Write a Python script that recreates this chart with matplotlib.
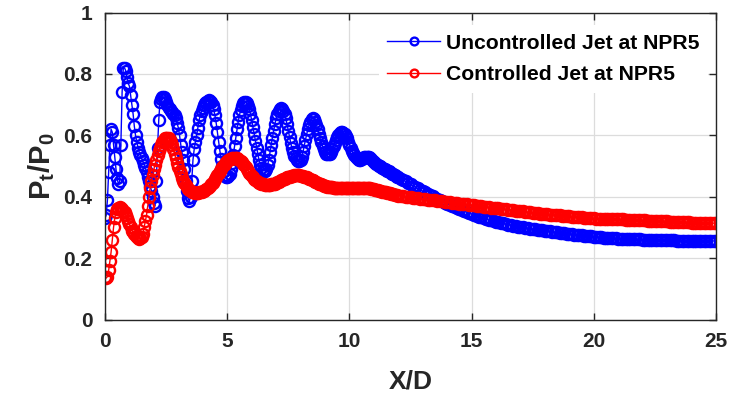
import matplotlib.pyplot as plt
import numpy as np

plt.rcParams['font.family'] = ['Liberation Sans', 'DejaVu Sans']
plt.rcParams['mathtext.fontset'] = 'custom'
plt.rcParams['mathtext.bf'] = 'Liberation Sans:bold'
plt.rcParams['mathtext.rm'] = 'Liberation Sans'
plt.rcParams['mathtext.it'] = 'Liberation Sans:italic'

# sampling grid of X/D: 0.05 over the oscillating part, then 0.1
xd = np.round(np.concatenate([np.arange(0, 12, 0.05), np.arange(12, 25.001, 0.1)]), 2)

# Uncontrolled jet, Pt/P0
unctrl = [
    # 0 - 12 (step 0.05)
    0.33, 0.34, 0.39, 0.48, 0.57, 0.62, 0.61, 0.57, 0.53, 0.49,
    0.46, 0.44, 0.45, 0.57, 0.74, 0.82, 0.82, 0.81, 0.79, 0.77,
    0.76, 0.73, 0.70, 0.67, 0.63, 0.60, 0.58, 0.56, 0.545, 0.535,
    0.525, 0.515, 0.505, 0.495, 0.48, 0.465, 0.45, 0.435, 0.42, 0.40,
    0.38, 0.37, 0.45, 0.56, 0.65, 0.71, 0.72, 0.725, 0.725, 0.72,
    0.71, 0.70, 0.69, 0.685, 0.68, 0.675, 0.67, 0.665, 0.655, 0.64,
    0.625, 0.60, 0.57, 0.545, 0.52, 0.49, 0.45, 0.42, 0.395, 0.385,
    0.40, 0.45, 0.52, 0.555, 0.58, 0.60, 0.625, 0.65, 0.665, 0.68,
    0.69, 0.698, 0.705, 0.71, 0.712, 0.714, 0.712, 0.708, 0.70, 0.685,
    0.665, 0.64, 0.61, 0.58, 0.55, 0.523, 0.50, 0.483, 0.47, 0.465,
    0.465, 0.468, 0.475, 0.49, 0.51, 0.537, 0.565, 0.593, 0.62, 0.645,
    0.665, 0.682, 0.695, 0.705, 0.71, 0.709, 0.705, 0.697, 0.685, 0.67,
    0.65, 0.628, 0.605, 0.582, 0.56, 0.538, 0.52, 0.505, 0.495, 0.488,
    0.485, 0.485, 0.49, 0.502, 0.52, 0.545, 0.57, 0.593, 0.615, 0.636,
    0.655, 0.669, 0.68, 0.687, 0.69, 0.687, 0.68, 0.669, 0.655, 0.636,
    0.615, 0.595, 0.575, 0.558, 0.545, 0.534, 0.525, 0.519, 0.515, 0.515,
    0.52, 0.53, 0.545, 0.565, 0.585, 0.603, 0.62, 0.634, 0.645, 0.652,
    0.655, 0.652, 0.645, 0.634, 0.62, 0.605, 0.59, 0.577, 0.565, 0.554,
    0.545, 0.54, 0.538, 0.538, 0.54, 0.546, 0.555, 0.565, 0.575, 0.585,
    0.595, 0.602, 0.607, 0.61, 0.61, 0.608, 0.605, 0.598, 0.59, 0.58,
    0.57, 0.56, 0.55, 0.542, 0.535, 0.53, 0.525, 0.522, 0.52, 0.52,
    0.522, 0.525, 0.528, 0.53, 0.53, 0.53, 0.528, 0.525, 0.522, 0.518,
    0.514, 0.51, 0.507, 0.504, 0.501, 0.499, 0.497, 0.494, 0.492, 0.49,
    0.488, 0.485, 0.483, 0.48, 0.478, 0.475, 0.473, 0.47, 0.468, 0.465,
    # 12 - 25 (step 0.1)
    0.463, 0.459, 0.455, 0.450, 0.445, 0.440, 0.436, 0.431, 0.427, 0.422,
    0.418, 0.414, 0.410, 0.405, 0.401, 0.397, 0.393, 0.389, 0.385, 0.381,
    0.377, 0.373, 0.369, 0.366, 0.362, 0.359, 0.356, 0.353, 0.350, 0.347,
    0.344, 0.341, 0.338, 0.335, 0.333, 0.330, 0.328, 0.325, 0.323, 0.321,
    0.319, 0.317, 0.315, 0.313, 0.311, 0.309, 0.308, 0.306, 0.305, 0.303,
    0.302, 0.300, 0.299, 0.297, 0.296, 0.295, 0.294, 0.293, 0.292, 0.291,
    0.289, 0.288, 0.287, 0.286, 0.285, 0.284, 0.283, 0.282, 0.281, 0.280,
    0.279, 0.278, 0.277, 0.276, 0.275, 0.274, 0.273, 0.272, 0.271, 0.271,
    0.270, 0.269, 0.269, 0.268, 0.267, 0.267, 0.266, 0.266, 0.265, 0.265,
    0.264, 0.264, 0.263, 0.263, 0.262, 0.262, 0.262, 0.261, 0.261, 0.261,
    0.260, 0.260, 0.260, 0.259, 0.259, 0.259, 0.259, 0.259, 0.258, 0.258,
    0.258, 0.258, 0.258, 0.258, 0.257, 0.257, 0.257, 0.257, 0.257, 0.257,
    0.257, 0.257, 0.256, 0.256, 0.256, 0.256, 0.256, 0.256, 0.256, 0.256,
    0.256,
]

# Controlled jet, Pt/P0
ctrl = [
    # 0 - 12 (step 0.05)
    0.14, 0.135, 0.14, 0.16, 0.19, 0.22, 0.26, 0.30, 0.33, 0.35,
    0.36, 0.365, 0.368, 0.365, 0.36, 0.355, 0.35, 0.34, 0.33, 0.32,
    0.31, 0.30, 0.29, 0.285, 0.278, 0.272, 0.268, 0.265, 0.264, 0.265,
    0.27, 0.28, 0.30, 0.32, 0.34, 0.37, 0.40, 0.43, 0.45, 0.47,
    0.49, 0.505, 0.52, 0.535, 0.55, 0.56, 0.57, 0.578, 0.585, 0.59,
    0.592, 0.593, 0.59, 0.585, 0.578, 0.568, 0.555, 0.54, 0.525, 0.51,
    0.497, 0.485, 0.473, 0.462, 0.452, 0.444, 0.437, 0.431, 0.426, 0.422,
    0.419, 0.417, 0.415, 0.414, 0.413, 0.413, 0.413, 0.414, 0.415, 0.417,
    0.418, 0.42, 0.422, 0.425, 0.428, 0.432, 0.436, 0.441, 0.446, 0.452,
    0.458, 0.464, 0.471, 0.478, 0.484, 0.49, 0.496, 0.502, 0.507, 0.512,
    0.516, 0.519, 0.522, 0.524, 0.526, 0.527, 0.527, 0.526, 0.525, 0.523,
    0.52, 0.516, 0.512, 0.507, 0.502, 0.497, 0.491, 0.485, 0.479, 0.473,
    0.468, 0.463, 0.459, 0.455, 0.452, 0.449, 0.446, 0.444, 0.442, 0.441,
    0.44, 0.439, 0.439, 0.439, 0.439, 0.439, 0.44, 0.441, 0.442, 0.443,
    0.445, 0.447, 0.449, 0.451, 0.453, 0.455, 0.457, 0.459, 0.461, 0.463,
    0.464, 0.466, 0.467, 0.468, 0.469, 0.47, 0.47, 0.47, 0.47, 0.47,
    0.469, 0.468, 0.467, 0.466, 0.464, 0.463, 0.461, 0.459, 0.457, 0.455,
    0.453, 0.451, 0.449, 0.447, 0.445, 0.443, 0.441, 0.44, 0.438, 0.436,
    0.435, 0.434, 0.433, 0.432, 0.432, 0.431, 0.431, 0.43, 0.43, 0.43,
    0.43, 0.43, 0.43, 0.43, 0.43, 0.43, 0.43, 0.43, 0.43, 0.43,
    0.43, 0.43, 0.43, 0.43, 0.43, 0.43, 0.43, 0.43, 0.429, 0.429,
    0.429, 0.429, 0.428, 0.428, 0.428, 0.428, 0.427, 0.427, 0.426, 0.425,
    0.424, 0.423, 0.422, 0.421, 0.42, 0.419, 0.418, 0.417, 0.416, 0.415,
    0.414, 0.413, 0.412, 0.411, 0.41, 0.409, 0.408, 0.407, 0.406, 0.405,
    # 12 - 25 (step 0.1)
    0.404, 0.403, 0.401, 0.400, 0.399, 0.398, 0.397, 0.396, 0.395, 0.394,
    0.393, 0.392, 0.391, 0.390, 0.389, 0.388, 0.387, 0.386, 0.385, 0.384,
    0.383, 0.382, 0.381, 0.380, 0.379, 0.378, 0.377, 0.376, 0.375, 0.374,
    0.373, 0.372, 0.371, 0.370, 0.369, 0.368, 0.367, 0.366, 0.365, 0.364,
    0.363, 0.362, 0.361, 0.360, 0.359, 0.358, 0.357, 0.356, 0.355, 0.354,
    0.353, 0.352, 0.351, 0.350, 0.349, 0.348, 0.347, 0.346, 0.345, 0.345,
    0.344, 0.343, 0.342, 0.341, 0.341, 0.340, 0.339, 0.338, 0.338, 0.337,
    0.336, 0.335, 0.335, 0.334, 0.333, 0.333, 0.332, 0.331, 0.331, 0.330,
    0.330, 0.329, 0.329, 0.329, 0.328, 0.328, 0.328, 0.327, 0.327, 0.327,
    0.326, 0.326, 0.326, 0.325, 0.325, 0.325, 0.324, 0.324, 0.324, 0.323,
    0.323, 0.323, 0.322, 0.322, 0.322, 0.321, 0.321, 0.321, 0.320, 0.320,
    0.320, 0.319, 0.319, 0.319, 0.318, 0.318, 0.318, 0.317, 0.317, 0.317,
    0.316, 0.316, 0.316, 0.315, 0.315, 0.315, 0.315, 0.314, 0.314, 0.314,
    0.314,
]

labels = ['Uncontrolled Jet at NPR5', 'Controlled Jet at NPR5']

#======================================================================================
fig = plt.figure(figsize=(7.43, 3.94), dpi=100)
ax = fig.add_axes([0.1413, 0.189, 0.8224, 0.779])

ax.plot(xd, unctrl, color='#0000ff', marker='o', mfc='none', markersize=8,
        markeredgewidth=1.7, linewidth=1.0, label=labels[0])
ax.plot(xd, ctrl, color='#ff0000', marker='o', mfc='none', markersize=8,
        markeredgewidth=1.7, linewidth=1.0, label=labels[1])

ax.set_xlim(0, 25)
ax.set_ylim(0, 1)
ax.set_xticks([0, 5, 10, 15, 20, 25])
ax.set_yticks([0, 0.2, 0.4, 0.6, 0.8, 1])
ax.set_yticklabels(['0', '0.2', '0.4', '0.6', '0.8', '1'])

ax.grid(True, color='#dcdcdc', linewidth=0.9)
ax.set_axisbelow(True)
ax.tick_params(direction='in', top=True, right=True, length=5, width=1,
               labelsize=15, colors='#262626', pad=9)
for lab in ax.get_xticklabels() + ax.get_yticklabels():
    lab.set_fontweight('bold')
for s in ax.spines.values():
    s.set_color('#262626')
    s.set_linewidth(1.0)

ax.set_xlabel('X/D', fontsize=19, fontweight='bold', color='#262626', labelpad=13)
ax.set_ylabel(r'$\mathbf{P_t/P_0}$', fontsize=21, color='#262626', labelpad=5)

# legend: no visible border, white box over the grid
leg = ax.legend(loc='upper right', bbox_to_anchor=(1.008, 1.0),
                prop={'weight': 'bold', 'size': 15.2}, markerscale=0.7,
                handlelength=2.5, handletextpad=0.3, labelspacing=0.6,
                frameon=True, framealpha=1, borderaxespad=0.6)
leg.get_frame().set_edgecolor('white')
leg.get_frame().set_linewidth(0)

fig.savefig('out.png', dpi=100)
